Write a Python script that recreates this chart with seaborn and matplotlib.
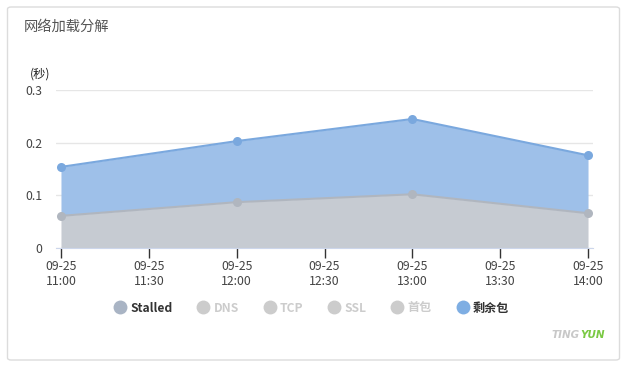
import numpy as np
import pandas as pd
import seaborn as sns
import matplotlib
from matplotlib import pyplot as plt
from matplotlib.lines import Line2D
from matplotlib.patches import FancyBboxPatch

sns.set_style('white')
plt.rcParams['font.family'] = ['Noto Sans CJK SC', 'DejaVu Sans']

# data (seconds)
times = ['11:00', '12:00', '13:00', '14:00']
minutes = [0, 60, 120, 180]
stalled = [0.061, 0.087, 0.102, 0.066]
remaining = [0.093, 0.116, 0.143, 0.110]
tick_minutes = [0, 30, 60, 90, 120, 150, 180]
tick_labels = ['09-25\n11:00', '09-25\n11:30', '09-25\n12:00', '09-25\n12:30',
               '09-25\n13:00', '09-25\n13:30', '09-25\n14:00']
legend_names = ['Stalled', 'DNS', 'TCP', 'SSL', '首包', '剩余包']
legend_active = [True, False, False, False, False, True]
legend_colors = ['#a9b4c4', '#cccccc', '#cccccc', '#cccccc', '#cccccc', '#7eaee3']

df = pd.DataFrame({'min': minutes, 'Stalled': stalled,
                   'top': np.array(stalled) + np.array(remaining)})

fig = plt.figure(figsize=(6.27, 3.66), dpi=100)
W, H = 627, 366

# card border
fig.patches.append(FancyBboxPatch((7.5 / W, 6 / H), 612 / W, 353 / H,
                                  boxstyle='round,pad=0,rounding_size=0.006',
                                  transform=fig.transFigure, fc='white',
                                  ec='#dcdcdc', lw=1, zorder=-5))
fig.text(24 / W, 1 - 27 / H, '网络加载分解', fontsize=10.3, color='#555555',
         weight='medium', va='center', ha='left')

ax = fig.add_axes([56 / W, 1 - 248 / H, 537 / W, 158 / H])
ax.set_facecolor('none')

ax.fill_between(df['min'], df['Stalled'], df['top'], color='#9ec0e9', lw=0, zorder=1)
ax.fill_between(df['min'], 0, df['Stalled'], color='#c6cbd2', lw=0, zorder=1)
sns.lineplot(data=df, x='min', y='top', color='#7aa8de', lw=1.5, marker='o',
             markersize=6.5, markeredgewidth=0, ax=ax, zorder=3)
sns.lineplot(data=df, x='min', y='Stalled', color='#b0b6bf', lw=1.5, marker='o',
             markersize=6.5, markeredgewidth=0, ax=ax, zorder=3)

ax.set_xlim(-1.7, 181.7)
ax.set_ylim(0, 0.3)
ax.set_yticks([0, 0.1, 0.2, 0.3])
ax.set_yticklabels(['0', '0.1', '0.2', '0.3'])
ax.set_xticks(tick_minutes)
ax.set_xticklabels(tick_labels, linespacing=1.25)
ax.grid(axis='y', color='#e6e6e6', lw=1, zorder=0)
ax.set_axisbelow(True)
for s in ['top', 'right', 'left']:
    ax.spines[s].set_visible(False)
ax.spines['bottom'].set_color('#ccd6eb')
ax.spines['bottom'].set_zorder(4)
ax.tick_params(axis='x', length=7, width=1, color='#333333', labelsize=8.8,
               labelcolor='#444444', pad=1.5, bottom=True)
ax.tick_params(axis='y', length=0, labelsize=8.8, labelcolor='#444444', pad=10)
ax.set_xlabel('')
ax.set_ylabel('')
fig.text(40 / W, 1 - 74 / H, '(秒)', fontsize=8.8, color='#222222',
         ha='center', va='center')

handles = [Line2D([], [], ls='', marker='o', markersize=10, markeredgewidth=0,
                  color=c) for c in legend_colors]
leg = ax.legend(handles, legend_names, ncol=6, loc='center',
                bbox_to_anchor=(311 / W, 1 - 308 / H),
                bbox_transform=fig.transFigure, frameon=False,
                handletextpad=0.25, columnspacing=1.95, handlelength=1.2,
                prop={'size': 8.7, 'weight': 'bold'})
for t, on in zip(leg.get_texts(), legend_active):
    t.set_color('#333333' if on else '#cccccc')

fig.text(580 / W, 1 - 335 / H, 'TING', fontsize=7.5, color='#c8c8c8',
         family='DejaVu Sans', style='italic', weight='bold', ha='right', va='center')
fig.text(580 / W, 1 - 335 / H, 'YUN', fontsize=7.5, color='#7ac943',
         family='DejaVu Sans', style='italic', weight='bold', ha='left', va='center')

plt.savefig('out.png', dpi=100)
